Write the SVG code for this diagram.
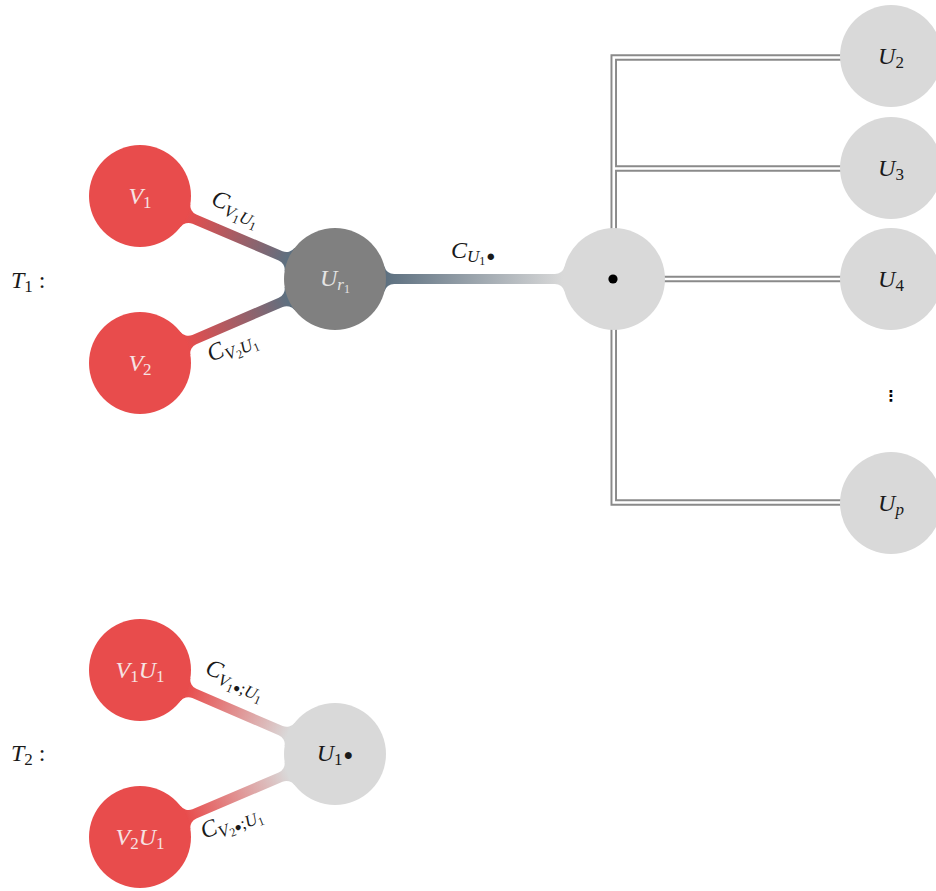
<svg xmlns="http://www.w3.org/2000/svg" width="936" height="891" viewBox="0 0 936 891">
  <defs>
    <style>
      .math { font-family: "Liberation Serif", "DejaVu Serif", serif; font-size: 24px; font-style: italic; }
      .up { font-style: normal; }
      .ink { fill: #1a1a1a; }
      .on-red { fill: #f6e3e3; }
      .on-gray { fill: #e4e4e4; }
      .red { fill: #e84c4c; }
      .gray { fill: #808080; }
      .light { fill: #d9d9d9; }
      .rail-out { fill: none; stroke: #8a8a8a; stroke-width: 6.5; stroke-linejoin: miter; }
      .rail-in { fill: none; stroke: #ffffff; stroke-width: 2.6; stroke-linejoin: miter; }
    </style>
    <!-- gradients run along the local x axis of each link, from one node rim to the other -->
    <linearGradient id="gRedSlate" gradientUnits="userSpaceOnUse" x1="51" y1="0" x2="161" y2="0">
      <stop offset="0" stop-color="#e84c4c"/>
      <stop offset="1" stop-color="#5d7080"/>
    </linearGradient>
    <linearGradient id="gSlateLight" gradientUnits="userSpaceOnUse" x1="51" y1="0" x2="228" y2="0">
      <stop offset="0" stop-color="#5d7080"/>
      <stop offset="1" stop-color="#d9d9d9"/>
    </linearGradient>
    <linearGradient id="gRedLight" gradientUnits="userSpaceOnUse" x1="51" y1="0" x2="161" y2="0">
      <stop offset="0" stop-color="#e84c4c"/>
      <stop offset="1" stop-color="#d9d9d9"/>
    </linearGradient>
  </defs>

  <!-- connectors -->
  <g id="connectors">
    <!-- flared bands: local frame, source node at origin, target node at (L,0) -->
    <g transform="translate(140,196) rotate(23.06)">
      <path fill="url(#gRedSlate)" d="M0,0 L49.44,-12.54 A10,10 0 0 0 59.13,-5 L152.8,-5 A10,10 0 0 0 162.49,-12.54 L211.93,0 L162.49,12.54 A10,10 0 0 0 152.8,5 L59.13,5 A10,10 0 0 0 49.44,12.54 Z"/>
    </g>
    <g transform="translate(140,363) rotate(-23.30)">
      <path fill="url(#gRedSlate)" d="M0,0 L49.44,-12.54 A10,10 0 0 0 59.13,-5 L153.19,-5 A10,10 0 0 0 162.88,-12.54 L212.32,0 L162.88,12.54 A10,10 0 0 0 153.19,5 L59.13,5 A10,10 0 0 0 49.44,12.54 Z"/>
    </g>
    <g transform="translate(335,279)">
      <path fill="url(#gSlateLight)" d="M0,0 L49.44,-12.54 A10,10 0 0 0 59.13,-5 L219.87,-5 A10,10 0 0 0 229.56,-12.54 L279,0 L229.56,12.54 A10,10 0 0 0 219.87,5 L59.13,5 A10,10 0 0 0 49.44,12.54 Z"/>
    </g>
    <g transform="translate(140,670) rotate(23.30)">
      <path fill="url(#gRedLight)" d="M0,0 L49.44,-12.54 A10,10 0 0 0 59.13,-5 L153.19,-5 A10,10 0 0 0 162.88,-12.54 L212.32,0 L162.88,12.54 A10,10 0 0 0 153.19,5 L59.13,5 A10,10 0 0 0 49.44,12.54 Z"/>
    </g>
    <g transform="translate(140,837) rotate(-23.06)">
      <path fill="url(#gRedLight)" d="M0,0 L49.44,-12.54 A10,10 0 0 0 59.13,-5 L152.8,-5 A10,10 0 0 0 162.49,-12.54 L211.93,0 L162.49,12.54 A10,10 0 0 0 152.8,5 L59.13,5 A10,10 0 0 0 49.44,12.54 Z"/>
    </g>

    <!-- double rails from the hub to U2 ... Up -->
    <g class="rail-out">
      <path d="M613.75,279 V57.5 H891"/>
      <path d="M613.75,168.5 H891"/>
      <path d="M614,279 H891"/>
      <path d="M613.75,279 V502.5 H891"/>
    </g>
    <g class="rail-in">
      <path d="M613.75,279 V57.5 H891"/>
      <path d="M613.75,168.5 H891"/>
      <path d="M614,279 H891"/>
      <path d="M613.75,279 V502.5 H891"/>
    </g>

    <!-- link labels -->
    <text class="math ink" transform="translate(210,204) rotate(23)">C<tspan font-size="17" dy="5">V</tspan><tspan class="up" font-size="12" dy="3">1</tspan><tspan font-size="17" dy="-3">U</tspan><tspan class="up" font-size="12" dy="3">1</tspan></text>
    <text class="math ink" transform="translate(211,362) rotate(-23)">C<tspan font-size="17" dy="5">V</tspan><tspan class="up" font-size="12" dy="3">2</tspan><tspan font-size="17" dy="-3">U</tspan><tspan class="up" font-size="12" dy="3">1</tspan></text>
    <text class="math ink" x="451" y="258">C<tspan font-size="17" dy="4">U</tspan><tspan class="up" font-size="12" dy="3">1</tspan><tspan class="up" font-size="15" dy="-4" dx="1">●</tspan></text>
    <text class="math ink" transform="translate(204,673) rotate(23)">C<tspan font-size="17" dy="5">V</tspan><tspan class="up" font-size="12" dy="3">1</tspan><tspan class="up" font-size="12" dy="-3">●</tspan><tspan class="up" font-size="17">;</tspan><tspan font-size="17">U</tspan><tspan class="up" font-size="12" dy="3">1</tspan></text>
    <text class="math ink" transform="translate(204,839) rotate(-21)">C<tspan font-size="17" dy="5">V</tspan><tspan class="up" font-size="12" dy="3">2</tspan><tspan class="up" font-size="12" dy="-3">●</tspan><tspan class="up" font-size="17">;</tspan><tspan font-size="17">U</tspan><tspan class="up" font-size="12" dy="3">1</tspan></text>
  </g>

  <!-- tree labels -->
  <text id="label-T1" class="math ink" x="11" y="288">T<tspan class="up" font-size="17" dy="4">1</tspan><tspan class="up" dy="-4"> :</tspan></text>
  <text id="label-T2" class="math ink" x="11" y="761">T<tspan class="up" font-size="17" dy="4">2</tspan><tspan class="up" dy="-4"> :</tspan></text>

  <!-- tree T1 -->
  <g id="node-V1">
    <circle class="red" cx="140" cy="196" r="51"/>
    <text class="math on-red" x="140" y="204" text-anchor="middle">V<tspan class="up" font-size="17" dy="4">1</tspan></text>
  </g>
  <g id="node-V2">
    <circle class="red" cx="140" cy="363" r="51"/>
    <text class="math on-red" x="140" y="371" text-anchor="middle">V<tspan class="up" font-size="17" dy="4">2</tspan></text>
  </g>
  <g id="node-Ur1">
    <circle class="gray" cx="335" cy="279" r="51"/>
    <text class="math on-gray" x="335" y="286" text-anchor="middle">U<tspan font-size="17" dy="4">r</tspan><tspan class="up" font-size="12" dy="3">1</tspan></text>
  </g>
  <g id="node-hub">
    <circle class="light" cx="614" cy="279" r="51"/>
    <circle fill="#000" cx="613" cy="279" r="4.6"/>
  </g>
  <g id="node-U2">
    <circle class="light" cx="891" cy="56" r="51"/>
    <text class="math ink" x="891" y="64" text-anchor="middle">U<tspan class="up" font-size="17" dy="4">2</tspan></text>
  </g>
  <g id="node-U3">
    <circle class="light" cx="891" cy="168" r="51"/>
    <text class="math ink" x="891" y="176" text-anchor="middle">U<tspan class="up" font-size="17" dy="4">3</tspan></text>
  </g>
  <g id="node-U4">
    <circle class="light" cx="891" cy="279" r="51"/>
    <text class="math ink" x="891" y="287" text-anchor="middle">U<tspan class="up" font-size="17" dy="4">4</tspan></text>
  </g>
  <text id="vdots" x="891" y="401" text-anchor="middle" font-size="15" font-weight="bold" fill="#000" font-family="DejaVu Sans, sans-serif">⋮</text>
  <g id="node-Up">
    <circle class="light" cx="891" cy="503" r="51"/>
    <text class="math ink" x="891" y="511" text-anchor="middle">U<tspan font-size="17" dy="4">p</tspan></text>
  </g>

  <!-- tree T2 -->
  <g id="node-V1U1">
    <circle class="red" cx="140" cy="670" r="51"/>
    <text class="math on-red" x="140" y="678" text-anchor="middle">V<tspan class="up" font-size="17" dy="4">1</tspan><tspan dy="-4">U</tspan><tspan class="up" font-size="17" dy="4">1</tspan></text>
  </g>
  <g id="node-V2U1">
    <circle class="red" cx="140" cy="837" r="51"/>
    <text class="math on-red" x="140" y="845" text-anchor="middle">V<tspan class="up" font-size="17" dy="4">2</tspan><tspan dy="-4">U</tspan><tspan class="up" font-size="17" dy="4">1</tspan></text>
  </g>
  <g id="node-U1b">
    <circle class="light" cx="335" cy="754" r="51"/>
    <text class="math ink" x="335" y="761" text-anchor="middle">U<tspan class="up" font-size="17" dy="4">1</tspan><tspan class="up" font-size="16" dy="-5" dx="1">●</tspan></text>
  </g>
</svg>
